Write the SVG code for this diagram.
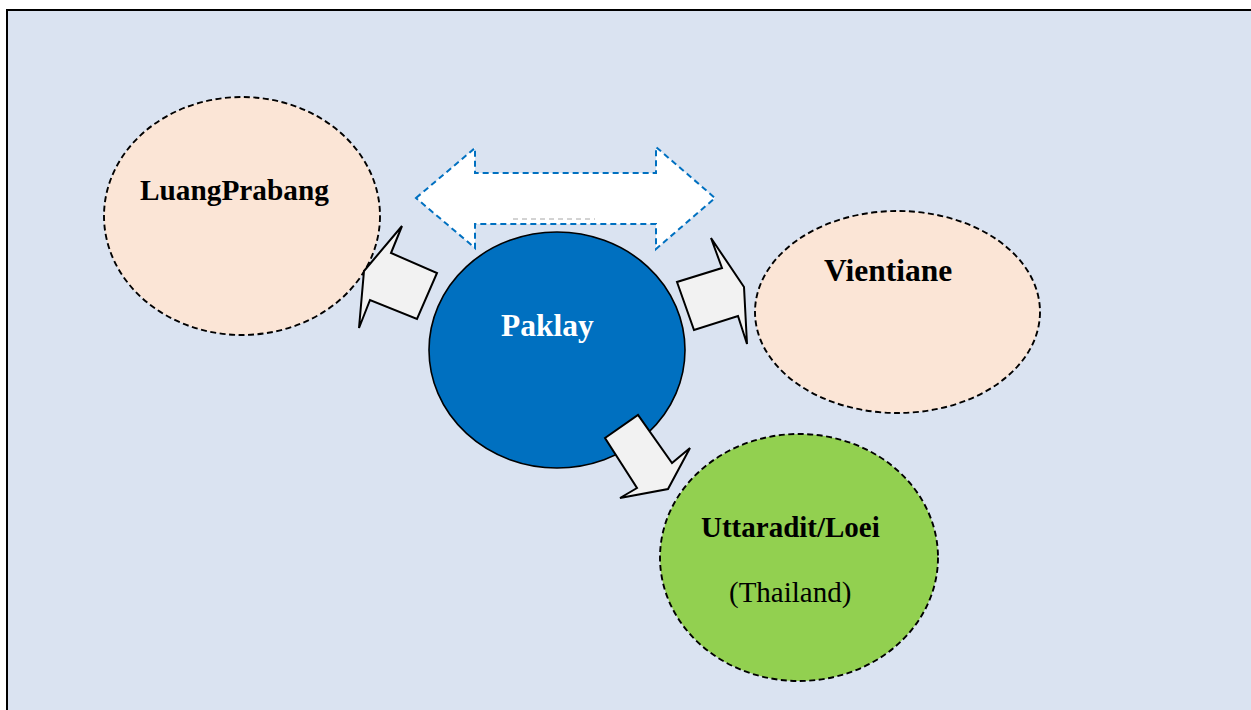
<svg xmlns="http://www.w3.org/2000/svg" width="1251" height="710" viewBox="0 0 1251 710">
  <style>
    .place { stroke: #000; stroke-width: 1.9; stroke-dasharray: 6 3.5; }
    .hub { fill: #0070C0; stroke: #000; stroke-width: 1.6; }
    .flow { fill: #F2F2F2; stroke: #000; stroke-width: 2; stroke-linejoin: miter; }
    .link { fill: #FFFFFF; stroke: #0070C0; stroke-width: 2; stroke-dasharray: 6 4; }
    .label { font-family: "Liberation Serif", "Times New Roman", serif; font-weight: bold; fill: #000; }
    .note { font-family: "Liberation Serif", "Times New Roman", serif; fill: #000; }
  </style>

  <rect width="1251" height="710" fill="#FFFFFF"/>
  <!-- framed panel -->
  <rect x="7" y="10" width="1260" height="720" fill="#DAE3F1" stroke="#000" stroke-width="2"/>

  <g id="node-luangprabang">
    <ellipse cx="242" cy="216" rx="138" ry="119" fill="#FBE5D6" class="place"/>
    <text x="140" y="200" font-size="29.3" class="label">LuangPrabang</text>
  </g>

  <g id="node-vientiane">
    <ellipse cx="897.5" cy="312" rx="142.5" ry="101" fill="#FBE5D6" class="place"/>
    <text x="824" y="281" font-size="31.5" class="label">Vientiane</text>
  </g>

  <g id="node-uttaradit">
    <ellipse cx="799" cy="557.5" rx="139" ry="123.5" fill="#92D050" class="place"/>
    <text x="701" y="537" font-size="29" class="label">Uttaradit/Loei</text>
    <text x="729" y="602" font-size="29" class="note">(Thailand)</text>
  </g>

  <g id="node-paklay">
    <ellipse cx="557" cy="350" rx="128" ry="118" class="hub"/>
    <text x="501" y="336" font-size="31.5" class="label" style="fill:#FFFFFF">Paklay</text>
  </g>

  <g id="connectors">
    <!-- two-way link between LuangPrabang and Vientiane -->
    <polygon class="link" points="416,198 475,148 475,173 656,173 656,147 715,198 656,249 656,224 475,224 475,248"/>
    <line x1="513" y1="219" x2="595" y2="219" stroke="#A6A6A6" stroke-width="1" stroke-dasharray="5 4"/>
    <!-- flows out of Paklay -->
    <polygon class="flow" points="402,226 391,253 437,273 417,319 370,300 359,328 364,271"/>
    <polygon class="flow" points="711,238 722,268 677,282 694,330 738,316 747,344 744,287"/>
    <polygon class="flow" points="605,438 638,415 672,463 690,448 668,489 620,498 637,488"/>
  </g>
</svg>
